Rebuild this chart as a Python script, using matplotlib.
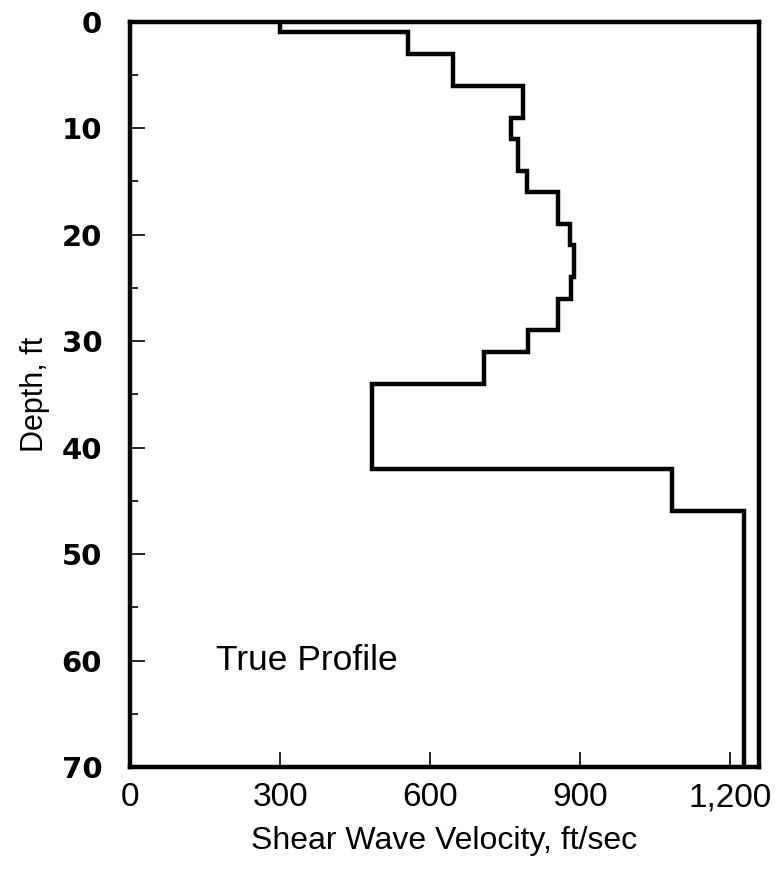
import matplotlib
matplotlib.use("Agg")
import matplotlib.pyplot as plt
from matplotlib.ticker import MultipleLocator, FuncFormatter

plt.rcParams['font.family'] = ['Liberation Sans', 'DejaVu Sans']

# Layer boundaries (depth, ft) and shear wave velocity (ft/sec) per layer
layer_top = [0, 1, 3, 6, 9, 11, 14, 16, 19, 21, 24, 26, 29, 31, 34, 42, 46]
layer_bottom = [1, 3, 6, 9, 11, 14, 16, 19, 21, 24, 26, 29, 31, 34, 42, 46, 70]
velocity = [300, 555, 645, 785, 762, 776, 793, 855, 880, 888, 881, 856, 796, 708, 483, 1084, 1228]

x_ticks = [0, 300, 600, 900, 1200]
y_ticks = [0, 10, 20, 30, 40, 50, 60, 70]

fig = plt.figure(figsize=(7.78, 8.72), dpi=100)
ax = fig.add_axes([130/778, 1-767/872, (759-130)/778, (767-21.7)/872])

# Build step profile
xs, ys = [], []
for t, b, v in zip(layer_top, layer_bottom, velocity):
    xs += [v, v]
    ys += [t, b]
ax.plot(xs, ys, color='black', lw=3.2, solid_joinstyle='miter')

ax.set_xlim(0, 1258)
ax.set_ylim(70, 0)

ax.set_xticks(x_ticks)
ax.xaxis.set_major_formatter(FuncFormatter(lambda v, p: f"{int(v):,}"))
ax.set_yticks(y_ticks)
ax.yaxis.set_minor_locator(MultipleLocator(5))

for s in ax.spines.values():
    s.set_linewidth(3.2)

ax.tick_params(axis='x', which='major', direction='in', length=11, width=1.2,
               labelsize=24, pad=11)
ax.tick_params(axis='y', which='major', direction='in', length=11, width=1.2,
               labelsize=21, pad=20)
ax.tick_params(axis='y', which='minor', direction='in', length=6, width=1.2)
for lab in ax.get_yticklabels():
    lab.set_fontweight('bold')
    lab.set_family(['DejaVu Sans'])

ax.set_xlabel('Shear Wave Velocity, ft/sec', fontsize=23, labelpad=9)
ax.set_ylabel('Depth, ft', fontsize=22, labelpad=8)

ax.text(172, 60, 'True Profile', fontsize=25.5, ha='left', va='center')

fig.savefig('out.png', dpi=100)
